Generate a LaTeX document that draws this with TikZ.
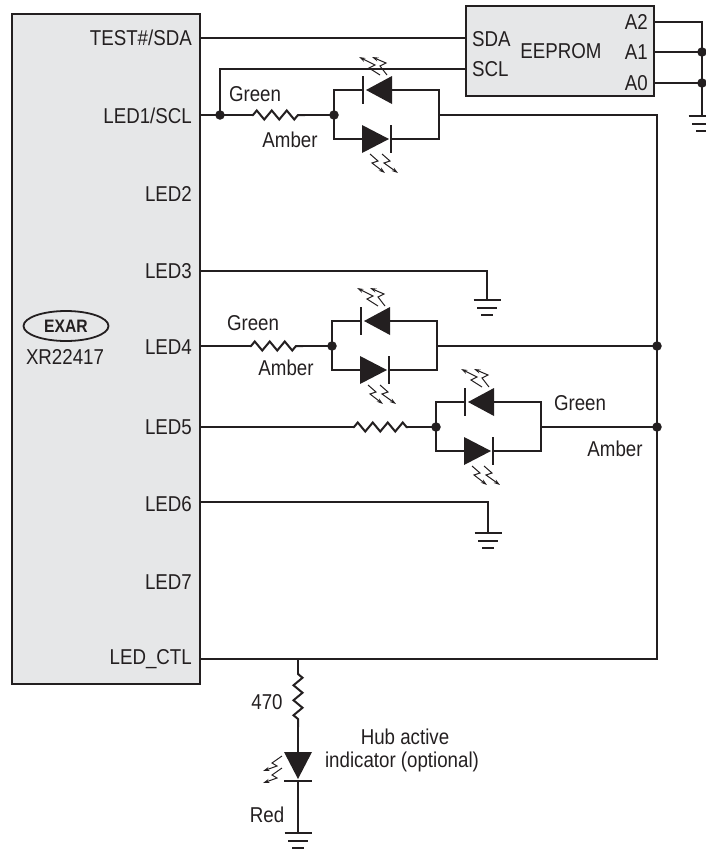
\documentclass[tikz,border=0pt]{standalone}
\usepackage{fontspec}
\setmainfont[FakeStretch=0.87]{Liberation Sans}
\usetikzlibrary{arrows.meta,decorations.pathmorphing,shapes.geometric}
\definecolor{ink}{HTML}{231F20}
\definecolor{chipgray}{HTML}{E6E7E8}
\begin{document}
\begin{tikzpicture}[x=1pt,y=-1pt,font=\fontsize{21.5}{24}\selectfont,text=ink]
    \useasboundingbox (0,0) rectangle (706,849);
    \clip (0,0) rectangle (706,849);

    % set the styles of the wires and parts
    \tikzset{
        wire/.style={draw=ink,line width=2.3pt,line join=miter},
        chip/.style={draw=ink,fill=chipgray,line width=2.4pt,inner sep=0pt},
        pinlabel/.style={anchor=east,inner sep=0pt},
        dot/.style={circle,fill=ink,inner sep=0pt,minimum size=9.5pt},
        res/.style={wire,line width=2pt,decorate,decoration={zigzag,segment length=15pt,amplitude=4.5pt,pre length=1pt,post length=1pt}},
        ray/.style={draw=ink,line width=1pt,-{Stealth[length=6.5pt,width=4pt]}}
    }

    % ground symbol, #1 is the name of its top
    \newcommand{\ground}[3]{
        \coordinate (#1) at (#2,#3);
        \draw[wire] (#2-13.5,#3) -- (#2+13.5,#3);
        \draw[wire] (#2-10,#3+8) -- (#2+10,#3+8);
        \draw[wire] (#2-6,#3+15) -- (#2+6,#3+15);
    }

    % two leds back to back, #1 is the prefix of the names
    \newcommand{\ledpair}[3]{
        \begin{scope}[shift={(#2,#3)}]
            \node[dot] (#1in) at (0,0) {};
            \coordinate (#1out) at (105,0);
            % bonds
            \draw[wire] (#1in.center) |- (29,-25);
            \draw[wire] (#1in.center) |- (28,24);
            \draw[wire] (58,-25) -| (#1out) |- (57,24);
            % upper led
            \draw[wire] (29,-39) -- (29,-11);
            \fill[ink] (32,-25) -- (58,-39) -- (58,-11) -- cycle;
            % lower led
            \draw[wire] (57,10) -- (57,38);
            \fill[ink] (55,24) -- (28,10) -- (28,38) -- cycle;
            % light
            \draw[ray] (46,-40) -- (35,-47) -- (41,-50) -- (25,-58);
            \draw[ray] (53,-40) -- (46,-49) -- (52,-52) -- (38,-58);
            \draw[ray] (36,39) -- (44,46) -- (38,48) -- (51,58);
            \draw[ray] (48,39) -- (56,46) -- (50,48) -- (64,58);
        \end{scope}
    }

    % the chip and its pins
    \node[chip,minimum width=188pt,minimum height=670pt] (ic) at (106,349) {};
    \node[pinlabel] (sda) at (192,38) {TEST\#/SDA};
    \node[pinlabel] (led1) at (192,116) {LED1/SCL};
    \node[pinlabel] (led2) at (192,194) {LED2};
    \node[pinlabel] (led3) at (192,271) {LED3};
    \node[pinlabel] (led4) at (192,347) {LED4};
    \node[pinlabel] (led5) at (192,427) {LED5};
    \node[pinlabel] (led6) at (192,504) {LED6};
    \node[pinlabel] (led7) at (192,582) {LED7};
    \node[pinlabel] (ctl) at (192,659) {LED\_CTL};

    % logo
    \node[draw=ink,ellipse,line width=1.8pt,minimum width=85pt,minimum height=30pt,inner sep=0pt,
        font=\fontsize{18}{20}\selectfont\bfseries] (logo) at (66,326) {EXAR};
    \node (part) at (65,357) {XR22417};

    % eeprom
    \node[chip,minimum width=188pt,minimum height=90pt] (rom) at (560,51) {};
    \node[anchor=west,inner sep=0pt] (romsda) at (472,39) {SDA};
    \node[anchor=west,inner sep=0pt] (romscl) at (472,69) {SCL};
    \node (romname) at (561,51) {EEPROM};
    \node[anchor=east,inner sep=0pt] (a2) at (648,22) {A2};
    \node[anchor=east,inner sep=0pt] (a1) at (648,52) {A1};
    \node[anchor=east,inner sep=0pt] (a0) at (648,83) {A0};

    % address pins
    \node[dot] (a1dot) at (702,52) {};
    \node[dot] (a0dot) at (702,83) {};
    \ground{gndrom}{702}{116}
    \draw[wire] (rom.east |- a2) -| (gndrom);
    \draw[wire] (rom.east |- a1) -- (a1dot.center);
    \draw[wire] (rom.east |- a0) -- (a0dot.center);

    % serial lines
    \node[dot] (scldot) at (220,115) {};
    \draw[wire] (ic.east |- sda) -- (rom.west |- sda);
    \draw[wire] (scldot.center) |- (rom.west |- romscl);
    \draw[wire] (ic.east |- scldot) -- (scldot.center);

    % led pairs
    \ledpair{one}{334}{115}
    \ledpair{two}{332}{346}
    \ledpair{three}{436}{427}

    % common line on the right
    \node[dot] (bustwo) at (657,346) {};
    \node[dot] (busthree) at (657,427) {};
    \coordinate (buslow) at (657,659);
    \draw[wire] (oneout) -| (buslow) -- (ic.east |- buslow);
    \draw[wire] (twoout) -- (bustwo.center);
    \draw[wire] (threeout) -- (busthree.center);

    % resistors of the pairs
    \coordinate (ra) at (252,115);
    \coordinate (rb) at (305,115);
    \coordinate (rc) at (250,346);
    \coordinate (rd) at (303,346);
    \coordinate (re) at (353,427);
    \coordinate (rf) at (408,427);
    \draw[wire] (scldot.center) -- (ra);
    \draw[res] (ra) -- (rb);
    \draw[wire] (rb) -- (onein.center);
    \draw[wire] (ic.east |- rc) -- (rc);
    \draw[res] (rc) -- (rd);
    \draw[wire] (rd) -- (twoin.center);
    \draw[wire] (ic.east |- re) -- (re);
    \draw[res] (re) -- (rf);
    \draw[wire] (rf) -- (threein.center);

    % grounded pins
    \ground{gndthree}{487}{300}
    \ground{gndsix}{488}{533}
    \coordinate (six) at (200,502);
    \draw[wire] (ic.east |- led3) -| (gndthree);
    \draw[wire] (six) -| (gndsix);

    % hub active indicator
    \coordinate (tap) at (298,659);
    \coordinate (rg) at (298,673);
    \coordinate (rh) at (298,727);
    \coordinate (redtop) at (298,752);
    \coordinate (redbar) at (298,781);
    \ground{gndred}{298}{833}
    \draw[wire] (tap) -- (rg);
    \draw[res] (rg) -- (rh);
    \draw[wire] (rh) -- (redtop);
    \draw[wire] (redbar) -- (gndred);
    \fill[ink] (284,752) -- (312,752) -- (298,779) -- cycle;
    \draw[wire] (284,781) -- (312,781);
    \draw[ray] (282,756) -- (272,763) -- (277,766) -- (263,771);
    \draw[ray] (282,768) -- (272,775) -- (277,778) -- (263,783);

    % labels
    \node (ga) at (255,94) {Green};
    \node (aa) at (290,140) {Amber};
    \node (gb) at (253,323) {Green};
    \node (ab) at (286,368) {Amber};
    \node (gc) at (580,403) {Green};
    \node (ac) at (615,449) {Amber};
    \node (val) at (267,702) {470};
    \node (red) at (267,815) {Red};
    \node (huba) at (405,737) {Hub active};
    \node (hubb) at (402,762) {indicator (optional)};
\end{tikzpicture}
\end{document}
